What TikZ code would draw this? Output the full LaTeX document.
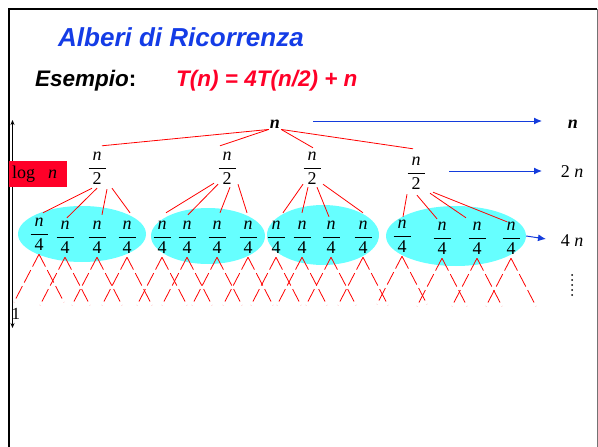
\documentclass[tikz,border=0pt]{standalone}
\usepackage{fontspec}
\setmainfont{Liberation Serif}
\newfontfamily\arialf{Liberation Sans}
\usetikzlibrary{arrows.meta,shapes.geometric}
\definecolor{tblue}{RGB}{20,60,230}
\definecolor{tred}{RGB}{255,0,40}
\definecolor{lred}{RGB}{255,0,0}
\definecolor{ecyan}{RGB}{102,255,255}
\definecolor{ablue}{RGB}{20,60,220}
\newcommand{\fr}[1]{$\displaystyle{\hbox to 17pt{\hfil\itshape n\hfil}\over\hbox{#1}}$}
\begin{document}
\begin{tikzpicture}[x=1pt,y=-1pt,
  frac/.style={inner sep=1pt, font=\fontsize{18}{20}\selectfont},
  grp/.style={ellipse, fill=ecyan, draw=none, inner sep=0},
  edge/.style={draw=lred, line width=0.8pt},
  vleg/.style={draw=lred, line width=0.8pt, dash pattern=on 14pt off 4pt},
  barrow/.style={draw=ablue, line width=1pt, -{Latex[length=8pt,width=7pt]}},
  lab/.style={inner sep=1pt, font=\fontsize{18}{20}\selectfont}]
\useasboundingbox (0,0) rectangle (598,447);
% frame
\coordinate (fbl) at (9,447); \coordinate (ftl) at (9,9);
\coordinate (ftr) at (597,9); \coordinate (fbr) at (597,447);
\draw[line width=2.5pt] (fbl) -- (ftl) -- (ftr);
\draw[black!55, line width=1pt] (ftr) -- (fbr);
% titles
\node[anchor=base west, inner sep=0, text=tblue,
  font=\arialf\bfseries\itshape\fontsize{26}{30}\selectfont] (title) at (58,46) {Alberi di Ricorrenza};
\node[anchor=base west, inner sep=0,
  font=\arialf\bfseries\fontsize{22.5}{26}\selectfont] (ex) at (35,86) {\itshape Esempio\upshape:};
\node[anchor=base west, inner sep=0, text=tred,
  font=\arialf\bfseries\itshape\fontsize{22.5}{26}\selectfont] (eq) at (176,86) {T(n) = 4T(n/2) + n};
% groups
\node[grp, minimum width=128pt, minimum height=56pt] (e1) at (82,234) {};
\node[grp, minimum width=114pt, minimum height=56pt] (e2) at (208,236) {};
\node[grp, minimum width=112pt, minimum height=60pt] (e3) at (323,235) {};
\node[grp, minimum width=140pt, minimum height=60pt] (e4) at (456,236) {};
% root and level 1
\node[lab, font=\bfseries\itshape\fontsize{18}{20}\selectfont] (r) at (275,124) {n};
\node[frac] (c1) at (97,168) {\fr{2}};
\node[frac] (c2) at (227,168) {\fr{2}};
\node[frac] (c3) at (312,168) {\fr{2}};
\node[frac] (c4) at (416,173) {\fr{2}};
% level 2
\node[frac] (q11) at (39,234) {\fr{4}};
\node[frac] (q12) at (65,237) {\fr{4}};
\node[frac] (q13) at (97,237) {\fr{4}};
\node[frac] (q14) at (127,237) {\fr{4}};
\node[frac] (q21) at (162,237) {\fr{4}};
\node[frac] (q22) at (187,237) {\fr{4}};
\node[frac] (q23) at (217,237) {\fr{4}};
\node[frac] (q24) at (248,237) {\fr{4}};
\node[frac] (q31) at (276,237) {\fr{4}};
\node[frac] (q32) at (302,237) {\fr{4}};
\node[frac] (q33) at (331,237) {\fr{4}};
\node[frac] (q34) at (363,237) {\fr{4}};
\node[frac] (q41) at (402,236) {\fr{4}};
\node[frac] (q42) at (442,238) {\fr{4}};
\node[frac] (q43) at (477,238) {\fr{4}};
\node[frac] (q44) at (511,238) {\fr{4}};
% root edges
\draw[edge] (r.south west) -- ([xshift=5pt,yshift=5pt]c1.north);
\draw[edge] (r.south west) -- ([xshift=-7pt,yshift=5pt]c2.north);
\draw[edge] (r.south east) -- ([xshift=1pt,yshift=3pt]c3.north);
\draw[edge] (r.south east) -- ([xshift=-3pt,yshift=7pt]c4.north);
% c1 edges
\draw[edge] ([xshift=-5pt,yshift=-3pt]c1.south) -- ([xshift=4pt,yshift=4pt]q11.north);
\draw[edge] ([xshift=0pt,yshift=-3pt]c1.south) -- ([xshift=2pt,yshift=2pt]q12.north);
\draw[edge] ([xshift=10pt,yshift=-4pt]c1.south) -- ([xshift=5pt,yshift=5pt]q13.north);
\draw[edge] ([xshift=15pt,yshift=-3pt]c1.south) -- ([xshift=3pt,yshift=7pt]q14.north);
% c2 edges
\draw[edge] ([xshift=-13pt,yshift=2pt]c2.south) -- ([xshift=4pt,yshift=7pt]q21.north);
\draw[edge] ([xshift=-9pt,yshift=1pt]c2.south) -- ([xshift=1pt,yshift=5pt]q22.north);
\draw[edge] ([xshift=3pt,yshift=-2pt]c2.south) -- ([xshift=3pt,yshift=7pt]q23.north);
\draw[edge] ([xshift=11pt,yshift=1pt]c2.south) -- ([xshift=-1pt,yshift=7pt]q24.north);
% c3 edges
\draw[edge] ([xshift=-9pt,yshift=1pt]c3.south) -- ([xshift=7pt,yshift=7pt]q31.north);
\draw[edge] ([xshift=-4pt,yshift=-2pt]c3.south) -- ([xshift=0pt,yshift=7pt]q32.north);
\draw[edge] ([xshift=5pt,yshift=-2pt]c3.south) -- ([xshift=-2pt,yshift=3pt]q33.north);
\draw[edge] ([xshift=11pt,yshift=1pt]c3.south) -- ([xshift=0pt,yshift=7pt]q34.north);
% c4 edges
\draw[edge] ([xshift=-9pt,yshift=-4pt]c4.south) -- ([xshift=1pt,yshift=2pt]q41.north);
\draw[edge] ([xshift=1pt,yshift=-5pt]c4.south) -- ([xshift=-5pt,yshift=2pt]q42.north);
\draw[edge] ([xshift=14pt,yshift=-3pt]c4.south) -- ([xshift=-11pt,yshift=3pt]q43.north);
\draw[edge] ([xshift=17pt,yshift=-2pt]c4.south) -- ([xshift=-4pt,yshift=-1pt]q44.north);
% dashed continuations
\foreach \q in {q11,q12,q13,q14,q21,q22,q23,q24,q31,q32,q33,q34,q41,q42,q43,q44}{
  \draw[vleg] ([yshift=-3pt]\q.south) -- ([xshift=-25pt,yshift=-51pt]\q.south);
  \draw[vleg] ([yshift=-3pt]\q.south) -- ([xshift=25pt,yshift=-51pt]\q.south);
}
% left height arrow and label
\coordinate (h1) at (12.5,120); \coordinate (h2) at (12.5,328);
\draw[line width=0.8pt, {Stealth[length=5pt,width=4pt]}-{Stealth[length=5pt,width=4pt]}] (h1) -- (h2);
\node[fill=tred, minimum width=58pt, minimum height=26pt, inner sep=0, anchor=north west] (lbox) at (9,161) {};
\node[anchor=base west, inner sep=0, font=\fontsize{18}{20}\selectfont] (ltxt) at (12,178) {log\hspace{13pt}\textit{n}};
\node[inner sep=0, font=\fontsize{17}{20}\selectfont] (one) at (16,314) {1};
% right side sums
\node[lab, font=\bfseries\itshape\fontsize{18}{20}\selectfont] (s1) at (573,124) {n};
\node[lab] (s2) at (572,172) {2 \textit{n}};
\node[lab] (s3) at (572,241) {4 \textit{n}};
\coordinate (a1s) at (313,121); \coordinate (a1e) at (542,121);
\coordinate (a2s) at (449,171); \coordinate (a2e) at (542,171);
\coordinate (a3e) at (546,239);
\draw[barrow] (a1s) -- (a1e);
\draw[barrow] (a2s) -- (a2e);
\draw[barrow] (e4.east) -- (a3e);
\foreach \yy in {275,280,285,290,295}{\fill (572,\yy) circle[radius=1pt];}
\end{tikzpicture}
\end{document}
